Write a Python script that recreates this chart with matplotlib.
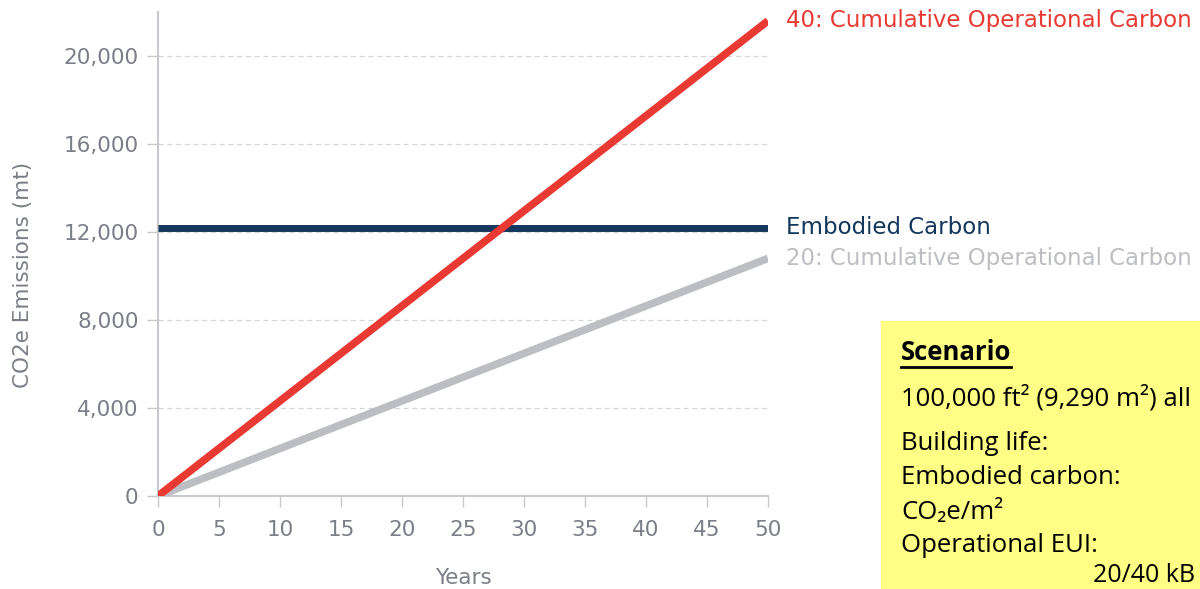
import numpy as np
import matplotlib.pyplot as plt
from matplotlib.lines import Line2D

# data
years = [0, 50]
op40 = [0, 21600]
op20 = [0, 10800]
embodied = [12200, 12200]
x_ticks = [0, 5, 10, 15, 20, 25, 30, 35, 40, 45, 50]
y_ticks = [0, 4000, 8000, 12000, 16000, 20000]

red = '#e83a33'
navy = '#14375e'
light = '#bdbec3'
grey_txt = '#7b7e87'

plt.rcParams['font.family'] = ['DejaVu Sans']

fig = plt.figure(figsize=(12, 5.89), dpi=100)
ax = fig.add_axes([158 / 1200, 1 - 496 / 589, 610 / 1200, (496 - 12) / 589])

ax.plot(years, embodied, color=navy, lw=5, solid_capstyle='butt', zorder=3)
ax.plot(years, op20, color=light, lw=5.5, solid_capstyle='butt', zorder=3)
ax.plot(years, op40, color=red, lw=5.5, solid_capstyle='butt', zorder=4)

ax.set_xlim(0, 50)
ax.set_ylim(0, 22000)
ax.set_xticks(x_ticks)
ax.set_yticks(y_ticks)
ax.set_yticklabels([f'{v:,}' for v in y_ticks])
ax.grid(axis='y', color='#d4d5d9', ls=(0, (4, 3)), lw=0.9)
ax.set_axisbelow(True)

for s in ['top', 'right']:
    ax.spines[s].set_visible(False)
for s in ['left', 'bottom']:
    ax.spines[s].set_color('#c8c9ce')
    ax.spines[s].set_linewidth(1.5)
ax.tick_params(axis='both', colors='#c8c9ce', labelcolor=grey_txt,
               labelsize=15.5, length=8, width=1)
ax.tick_params(axis='x', pad=9)
ax.tick_params(axis='y', pad=6)

# axis titles placed where the reference has them
fig.text(463 / 1200, 1 - 578 / 589, 'Years', fontsize=15.5, color=grey_txt,
         ha='center', va='center')
fig.text(23 / 1200, 1 - 275 / 589, 'CO2e Emissions (mt)', fontsize=15.5,
         color=grey_txt, rotation=90, ha='center', va='center')

# end-of-line labels
for yv, s, c in [(op40[-1], '40: Cumulative Operational Carbon', red),
                 (embodied[-1], 'Embodied Carbon', navy),
                 (op20[-1], '20: Cumulative Operational Carbon', light)]:
    ax.text(51.5, yv, s, color=c, fontsize=16.5, va='center', ha='left',
            clip_on=False)

# yellow scenario box
fig.patches.append(plt.Rectangle((881 / 1200, 0), 1 - 881 / 1200, 1 - 321 / 589,
                                 transform=fig.transFigure, color='#ffff85',
                                 zorder=0))
box_font = ['Open Sans', 'DejaVu Sans']
title = fig.text(901 / 1200, 1 - 352 / 589, 'Scenario', fontsize=18.5,
                 fontweight='bold', family=box_font, va='center')
lines = [
    (398, '100,000 ft² (9,290 m²) all'),
    (443, 'Building life:'),
    (478, 'Embodied carbon:'),
    (512, 'CO₂e/m²'),
    (546, 'Operational EUI:'),
]
for y, s in lines:
    fig.text(901 / 1200, 1 - y / 589, s, fontsize=18.5, family=box_font,
             va='center')
fig.text(1093 / 1200, 1 - 576 / 589, '20/40 kB', fontsize=18,
         family=box_font, va='center')

fig.canvas.draw()
bb = title.get_window_extent()
fig.add_artist(Line2D([bb.x0 / 1200, bb.x1 / 1200],
                      [(bb.y0 - 1) / 589, (bb.y0 - 1) / 589],
                      transform=fig.transFigure, color='black', lw=2))

fig.savefig('out.png', dpi=100)
